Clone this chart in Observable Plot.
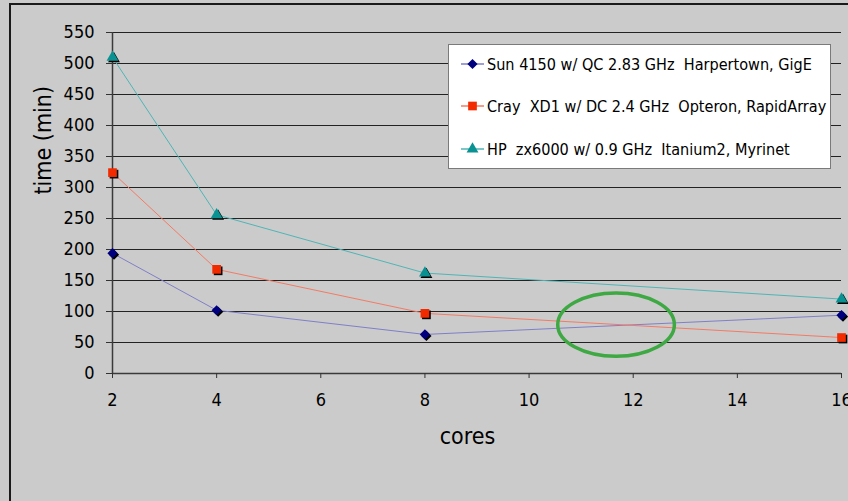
<!DOCTYPE html>
<html><head><meta charset="utf-8">
<script src="https://cdn.jsdelivr.net/npm/d3@7"></script>
<script src="https://cdn.jsdelivr.net/npm/@observablehq/plot@0.6"></script>
<style>
html,body{margin:0;padding:0;background:#cbcbcb;overflow:hidden;width:848px;height:501px}
#wrap{position:relative;width:848px;height:501px}
#chart svg{display:block}
#frame{position:absolute;left:9px;top:3px;width:900px;height:600px;border-left:2px solid #1a1a1a;border-top:2px solid #1a1a1a;pointer-events:none}
#legend{position:absolute;left:448px;top:44px;width:383px;height:125px;background:#fff;border:1px solid #7a7a7a;box-sizing:border-box;font-family:"DejaVu Sans Condensed","DejaVu Sans",sans-serif;font-size:16.1px;color:#000}
.entry{position:absolute;left:0;height:24px;display:flex;align-items:center;white-space:pre}
.entry svg{margin-left:12px;margin-right:3px}
</style></head>
<body><div id="wrap"><div id="chart"></div><div id="legend"></div><div id="frame"></div></div>
<script>
// ---- data ----
const cores = [2, 4, 8, 16];
const sunTime = [194, 102, 63, 94];
const crayTime = [324, 168, 97, 58];
const hpTime = [510, 256, 162, 120];
const seriesNames = [
  "Sun 4150 w/ QC 2.83 GHz  Harpertown, GigE",
  "Cray  XD1 w/ DC 2.4 GHz  Opteron, RapidArray",
  "HP  zx6000 w/ 0.9 GHz  Itanium2, Myrinet"
];
const xTicks = [2, 4, 6, 8, 10, 12, 14, 16];
const yTicks = [0, 50, 100, 150, 200, 250, 300, 350, 400, 450, 500, 550];
const xLabel = "cores";
const yLabel = "time (min)";
// annotation ellipse (data units)
const ellipseCenter = [11.68, 78];
const ellipseRadii = [1.12, 51];

// ---- styles ----
const series = [
  {name: seriesNames[0], values: sunTime, symbol: "diamond2", marker: "#00007f", line: "#7f7fc8", r: 4.6},
  {name: seriesNames[1], values: crayTime, symbol: "square", marker: "#f22a00", line: "#f47a64", r: 4.9},
  {name: seriesNames[2], values: hpTime, symbol: "triangle", marker: "#0a9292", line: "#4fb5b5", r: 4.4}
];
const font = '"DejaVu Sans Condensed","DejaVu Sans",sans-serif';

const seriesMarks = series.flatMap(s => {
  const rows = cores.map((c, i) => ({cores: c, time: s.values[i]}));
  return [
    Plot.line(rows, {x: "cores", y: "time", stroke: s.line, strokeWidth: 1}),
    Plot.dot(rows, {x: "cores", y: "time", symbol: s.symbol, r: s.r, fill: "#000", dx: 1.5, dy: 1.5}),
    Plot.dot(rows, {x: "cores", y: "time", symbol: s.symbol, r: s.r, fill: s.marker})
  ];
});

const ellipseMark = (index, scales) => {
  const {x, y} = scales;
  const cx = x(ellipseCenter[0]), cy = y(ellipseCenter[1]);
  return d3.create("svg:ellipse")
    .attr("cx", cx).attr("cy", cy)
    .attr("rx", Math.abs(x(ellipseCenter[0] + ellipseRadii[0]) - cx))
    .attr("ry", Math.abs(y(ellipseCenter[1] + ellipseRadii[1]) - cy))
    .attr("fill", "none").attr("stroke", "#3ea843").attr("stroke-width", 3.5)
    .node();
};

const chart = Plot.plot({
  width: 848, height: 501,
  marginLeft: 112, marginRight: 7, marginTop: 32, marginBottom: 128,
  style: {background: "transparent", fontFamily: font, color: "#000", overflow: "visible"},
  x: {type: "linear", domain: [2, 16]},
  y: {type: "linear", domain: [0, 550]},
  marks: [
    Plot.gridY(yTicks, {stroke: "#222", strokeOpacity: 1, strokeWidth: 1.2}),
    Plot.ruleY([0], {stroke: "#3a3a3a", strokeWidth: 1.5}),
    Plot.ruleX([2], {stroke: "#3a3a3a", strokeWidth: 1.5}),
    Plot.axisY(yTicks, {tickSize: 6, tickPadding: 12, fontSize: 18, label: null, stroke: "#333"}),
    Plot.axisX(xTicks, {tickSize: 5, tickPadding: 15, fontSize: 18, label: null, stroke: "#333"}),
    Plot.text([xLabel], {frameAnchor: "bottom", dx: -9.5, dy: 70, fontSize: 23, fill: "#000"}),
    Plot.text([yLabel], {frameAnchor: "left", rotate: -90, dx: -69, dy: -8.5, fontSize: 23, fill: "#000"}),
    ...seriesMarks,
    ellipseMark
  ]
});
document.getElementById("chart").appendChild(chart);

// ---- legend ----
const legend = d3.select("#legend");
const rowCenters = [19, 61, 104];
series.forEach((s, i) => {
  const e = legend.append("div").attr("class", "entry").style("top", (rowCenters[i] - 12) + "px");
  const sw = e.append("svg").attr("width", 23).attr("height", 20);
  sw.append("line").attr("x1", 0).attr("x2", 23).attr("y1", 10).attr("y2", 10)
    .attr("stroke", s.line).attr("stroke-width", 1.5);
  const symMap = {diamond2: d3.symbolDiamond2, square: d3.symbolSquare, triangle: d3.symbolTriangle};
  sw.append("path").attr("transform", "translate(11.5,10)")
    .attr("d", d3.symbol(symMap[s.symbol], Math.PI * s.r * s.r)())
    .attr("fill", s.marker);
  e.append("span").text(s.name);
});
</script>
</body></html>
